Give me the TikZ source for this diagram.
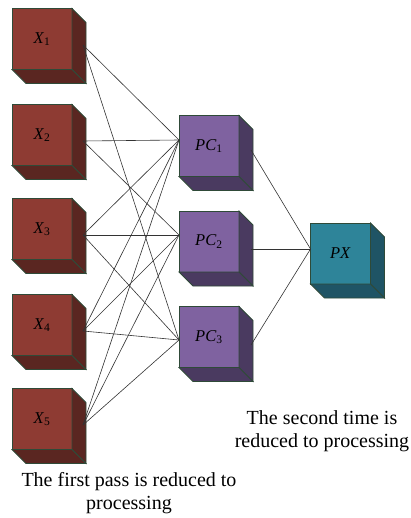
\documentclass[tikz,border=0pt]{standalone}
\usepackage{fontspec}
\setmainfont{Liberation Serif}

\definecolor{edge}{HTML}{2F4A38}
\definecolor{xred}{HTML}{8E3B33}
\definecolor{xredside}{HTML}{5A2621}
\definecolor{pcviolet}{HTML}{7F62A0}
\definecolor{pcvioletside}{HTML}{4A3A60}
\definecolor{pxteal}{HTML}{2E8499}
\definecolor{pxtealside}{HTML}{1F5465}

\tikzset{
	cube/.style = {rectangle, draw=edge, line width=0.8pt, minimum width=60pt, minimum height=61pt, inner sep=0pt, outer sep=0pt, font=\fontsize{16.5}{18}\selectfont},
	link/.style = {draw=black!80, line width=0.6pt},
	caption/.style = {align=center, inner sep=0pt, anchor=north, font=\fontsize{20}{23}\selectfont}
}

\begin{document}
\begin{tikzpicture}[x=1pt, y=-1pt]
	\useasboundingbox (0,0) rectangle (410,518);
	%Tiefe der Wuerfel
	\def\tief{14}
	%Wuerfel: Name, x, y, Farbe, Text
	\newcommand{\mycube}[5]
	{
		\node[cube, fill=#4] (#1) at (#2,#3) {#5};
		\filldraw[draw=edge, line width=0.8pt, fill=#4side] (#1.north east) -- ++(\tief,\tief) -- ([shift={(\tief,\tief)}]#1.south east) -- (#1.south east) -- cycle;
		\filldraw[draw=edge, line width=0.8pt, fill=#4side] (#1.south west) -- ++(\tief,\tief) -- ([shift={(\tief,\tief)}]#1.south east) -- (#1.south east) -- cycle;
	};
	
	%Eingaenge X
	\mycube{X1}{42}{39}{xred}{\textit{X}\textsubscript{1}}
	\mycube{X2}{42}{135}{xred}{\textit{X}\textsubscript{2}}
	\mycube{X3}{42}{229}{xred}{\textit{X}\textsubscript{3}}
	\mycube{X4}{42}{325}{xred}{\textit{X}\textsubscript{4}}
	\mycube{X5}{42}{419}{xred}{\textit{X}\textsubscript{5}}
	%erste Stufe
	\mycube{PC1}{209}{146}{pcviolet}{\textit{PC}\textsubscript{1}}
	\mycube{PC2}{209}{241.5}{pcviolet}{\textit{PC}\textsubscript{2}}
	\mycube{PC3}{209}{337}{pcviolet}{\textit{PC}\textsubscript{3}}
	%zweite Stufe
	\mycube{PX}{340.5}{253.5}{pxteal}{\textit{PX}}
	
	%Anschluesse
	\foreach \i in {1,...,5}
		\coordinate (x\i) at ([shift={(11,6)}]X\i.east);
	\coordinate (pc1in) at ([shift={(0,-6)}]PC1.west);
	\coordinate (pc2in) at ([shift={(0,-6.5)}]PC2.west);
	\coordinate (pc3in) at ([shift={(0,3)}]PC3.west);
	\coordinate (pc1out) at ([shift={(12,4)}]PC1.east);
	\coordinate (pc2out) at ([shift={(12,7.5)}]PC2.east);
	\coordinate (pc3out) at ([shift={(12,8)}]PC3.east);
	\coordinate (pxin) at ([shift={(0,-4.5)}]PX.west);
	
	%Verbindungen
	\foreach \i/\j in {1/1,1/3,2/1,2/2,3/1,3/2,3/3,4/1,4/2,4/3,5/1,5/2,5/3}
		\draw[link] (x\i) -- (pc\j in);
	\foreach \j in {1,2,3}
		\draw[link] (pc\j out) -- (pxin);
	
	%Beschriftung
	\node[caption] (first) at (129,472) {The first pass is reduced to\\processing};
	\node[caption] (second) at (322,410) {The second time is\\reduced to processing};
\end{tikzpicture}
\end{document}
